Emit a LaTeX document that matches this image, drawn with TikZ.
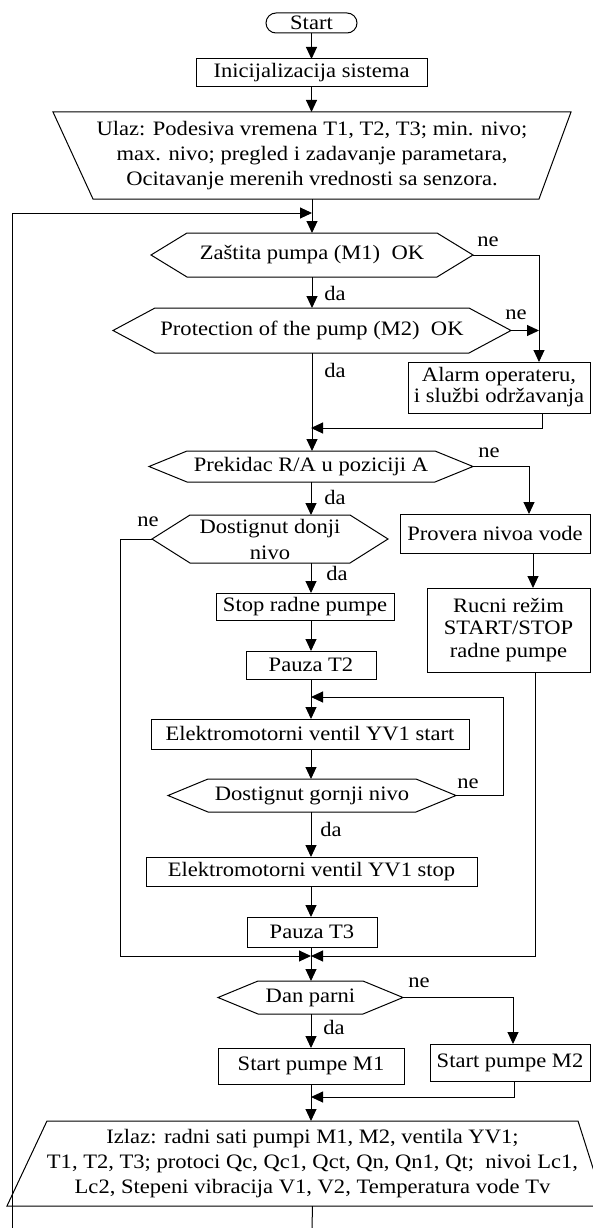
\documentclass[tikz,border=0pt]{standalone}
\usepackage{fontspec}
\setmainfont{Liberation Serif}[FakeStretch=1.1]
\usetikzlibrary{arrows.meta,calc}
\tikzset{
  base/.style={inner sep=0pt, outer sep=0pt, align=center, font=\fontsize{20.5}{25}\selectfont},
  box/.style={base, draw, line width=1pt},
  dec/.style={base},
  lbl/.style={inner sep=0pt, font=\fontsize{20.5}{25}\selectfont},
  conn/.style={line width=1pt},
  arr/.style={conn, -{Triangle[length=12pt,width=11pt]}},
}
\newcommand{\hexdraw}[2]{\draw[conn] (#1.west) -- ([xshift=#2pt]#1.north west) -- ([xshift=-#2pt]#1.north east) -- (#1.east) -- ([xshift=-#2pt]#1.south east) -- ([xshift=#2pt]#1.south west) -- cycle;}
\begin{document}
\begin{tikzpicture}[x=1pt,y=-1pt]
\useasboundingbox (0,0) rectangle (593,1228);
% nodes
\node[box, rounded corners=10pt, minimum width=91pt, minimum height=20pt] (start) at (311.5,23) {Start};
\node[box, minimum width=231pt, minimum height=28pt] (init) at (311.5,73) {Inicijalizacija sistema};
\node[dec, minimum width=518pt, minimum height=87pt] (ulaz) at (312,155.5) {Ulaz: Podesiva vremena T1, T2, T3; min. nivo;\\ max. nivo; pregled i zadavanje parametara,\\ Ocitavanje merenih vrednosti sa senzora.};
\draw[conn] (ulaz.north west) -- (ulaz.north east) -- ([xshift=-32pt]ulaz.south east) -- ([xshift=40pt]ulaz.south west) -- cycle;
\node[dec, minimum width=322pt, minimum height=44pt] (zastita) at (312,255) {Zaštita pumpa (M1)~ OK};
\hexdraw{zastita}{36}
\node[dec, minimum width=398pt, minimum height=45pt] (prot) at (312,330.5) {Protection of the pump (M2)~ OK};
\hexdraw{prot}{42}
\node[box, minimum width=182pt, minimum height=51pt, font=\fontsize{20.5}{21}\selectfont] (alarm) at (499,387.5) {Alarm operateru,\\ i službi održavanja};
\node[dec, minimum width=324pt, minimum height=31pt] (prek) at (311,466.5) {Prekidac R/A u poziciji A};
\hexdraw{prek}{38}
\node[dec, minimum width=236pt, minimum height=48pt, font=\fontsize{20.5}{26}\selectfont] (donji) at (270,539) {Dostignut donji\\ nivo};
\hexdraw{donji}{38}
\node[box, minimum width=190pt, minimum height=39pt] (provera) at (495,533.5) {Provera nivoa vode};
\node[box, minimum width=163pt, minimum height=84pt, font=\fontsize{20.5}{22.5}\selectfont] (rucni) at (508.5,630) {Rucni režim\\ START/STOP\\ radne pumpe};
\node[box, minimum width=178pt, minimum height=27pt] (stop) at (305,606.5) {Stop radne pumpe};
\node[box, minimum width=130pt, minimum height=28pt] (pauza2) at (311,665) {Pauza T2};
\node[box, minimum width=318pt, minimum height=30pt] (estart) at (310,734) {Elektromotorni ventil YV1 start};
\node[dec, minimum width=288pt, minimum height=33pt] (gornji) at (312,795.5) {Dostignut gornji nivo};
\hexdraw{gornji}{40}
\node[box, minimum width=331pt, minimum height=29pt] (estop) at (311.5,871.5) {Elektromotorni ventil YV1 stop};
\node[box, minimum width=130pt, minimum height=30pt] (pauza3) at (312,932) {Pauza T3};
\node[dec, minimum width=185pt, minimum height=33pt] (dan) at (310.5,997.5) {Dan parni};
\hexdraw{dan}{40}
\node[box, minimum width=186pt, minimum height=36pt] (m1) at (311,1066) {Start pumpe M1};
\node[box, minimum width=160pt, minimum height=37pt] (m2) at (510,1062.5) {Start pumpe M2};
\node[dec, minimum width=503pt, minimum height=85pt] (izlaz) at (312.5,1163.5) {Izlaz: radni sati pumpi M1, M2, ventila YV1;\\ T1, T2, T3; protoci Qc, Qc1, Qct, Qn, Qn1, Qt;~ nivoi Lc1,\\ Lc2, Stepeni vibracija V1, V2, Temperatura vode Tv};
\draw[conn] (izlaz.north west) -- (izlaz.north east) -- ([xshift=27pt]izlaz.south east) -- ([xshift=-40pt]izlaz.south west) -- cycle;
% coordinates
\coordinate (ax) at (311,0);
\coordinate (j1) at (312,213);
\coordinate (lt) at (12,213);
\coordinate (botL) at (12,1228);
\coordinate (bot) at (312,1228);
\coordinate (acol) at (539,362);
\coordinate (jA) at (311,428);
\coordinate (lc) at (120,956);
\coordinate (j3) at (311,956);
\coordinate (rl) at (503,697);
\coordinate (j2) at (311,697);
\coordinate (j4) at (311,1097);
% labels
\node[lbl] (ne1) at (488,242) {ne};
\node[lbl] (da1) at (335,293) {da};
\node[lbl] (ne2) at (516,315) {ne};
\node[lbl] (da2) at (335,370) {da};
\node[lbl] (ne3) at (489,453) {ne};
\node[lbl] (da3) at (335,497) {da};
\node[lbl] (ne4) at (148,522) {ne};
\node[lbl] (da4) at (337,573) {da};
\node[lbl] (ne5) at (468,784) {ne};
\node[lbl] (da5) at (331,829) {da};
\node[lbl] (ne6) at (419,983) {ne};
\node[lbl] (da6) at (334,1027) {da};
% connectors
\draw[arr] (start.south) -- (init.north);
\draw[arr] (init.south) -- (init.south |- ulaz.north);
\draw[arr] (ulaz.south) -- (zastita.north);
\draw[arr] (botL) -- (lt) -- (j1);
\draw[arr] (zastita.east) -| (acol);
\draw[arr] (prot.east) -- (prot.east -| acol);
\draw[arr] (zastita.south) -- (prot.north);
\draw[arr] (prot.south) -- (prot.south |- prek.north);
\draw[arr] ([xshift=43pt]alarm.south) |- (jA);
\draw[arr] (prek.east) -| ([xshift=34pt]provera.north);
\draw[arr] (prek.south) -- (prek.south |- donji.north);
\draw[arr] (donji.west) -| (lc) -- (j3);
\draw[arr] ([xshift=38pt]provera.south) -- ([xshift=38pt]provera.south |- rucni.north);
\draw[arr] ([xshift=27pt]rucni.south) |- (j3);
\draw[arr] (donji.south -| ax) -- (stop.north -| ax);
\draw[arr] (stop.south -| ax) -- (pauza2.north -| ax);
\draw[arr] (pauza2.south -| ax) -- (estart.north -| ax);
\draw[arr] (gornji.east) -| (rl) -- (j2);
\draw[arr] (estart.south -| ax) -- (gornji.north -| ax);
\draw[arr] (gornji.south -| ax) -- (estop.north -| ax);
\draw[arr] (estop.south -| ax) -- (pauza3.north -| ax);
\draw[arr] (pauza3.south -| ax) -- (dan.north -| ax);
\draw[arr] (dan.east) -| ([xshift=3pt]m2.north);
\draw[arr] (dan.south -| ax) -- (m1.north -| ax);
\draw[arr] (m1.south -| ax) -- (izlaz.north -| ax);
\draw[arr] ([xshift=4pt]m2.south) |- (j4);
\draw[conn] (izlaz.south) -- (bot);
\end{tikzpicture}
\end{document}
